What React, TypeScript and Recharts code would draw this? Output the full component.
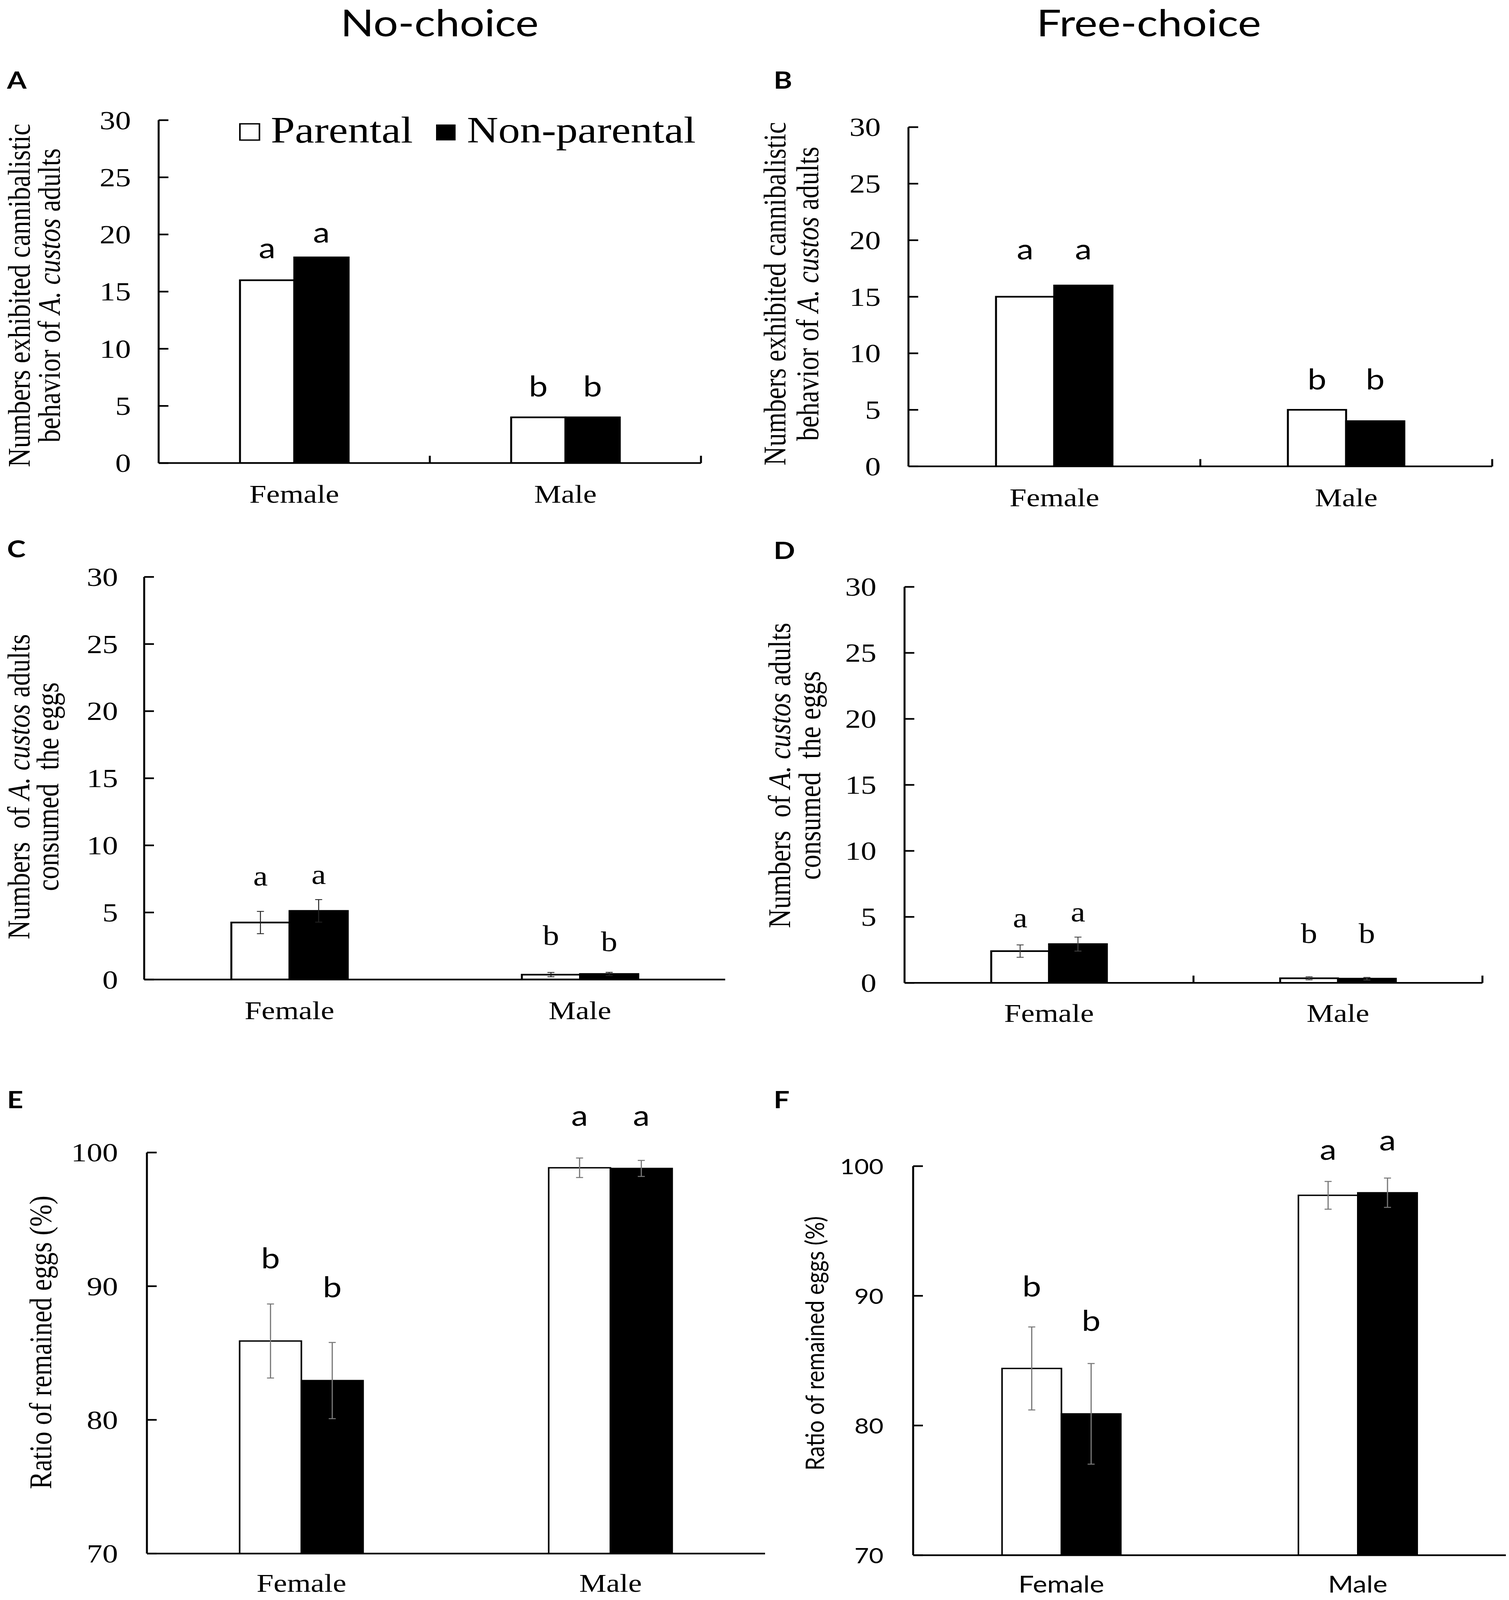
import React from 'react';
import { BarChart, Bar, XAxis, YAxis, ErrorBar, LabelList, Legend } from 'recharts';

// ---------- data ----------
const categories = ['Female', 'Male'];
const seriesNames = ['Parental', 'Non-parental'];
const countTicks = [0, 5, 10, 15, 20, 25, 30];
const ratioTicks = [70, 80, 90, 100];
const lettersCount = ['a', 'b'];
const lettersRatio = ['b', 'a'];

// A: No-choice, numbers exhibited cannibalistic behavior
const aParental = [16, 4];
const aNonParental = [18, 4];
// B: Free-choice, numbers exhibited cannibalistic behavior
const bParental = [15, 5];
const bNonParental = [16, 4];
// C: No-choice, numbers consumed the eggs
const cParental = [4.25, 0.37];
const cParentalErr = [0.83, 0.16];
const cNonParental = [5.12, 0.42];
const cNonParentalErr = [0.84, 0.12];
// D: Free-choice, numbers consumed the eggs
const dParental = [2.41, 0.35];
const dParentalErr = [0.47, 0.12];
const dNonParental = [2.94, 0.32];
const dNonParentalErr = [0.53, 0.1];
// E: No-choice, ratio of remained eggs (%)
const eParental = [85.9, 98.86];
const eParentalErr = [2.77, 0.73];
const eNonParental = [82.94, 98.81];
const eNonParentalErr = [2.85, 0.6];
// F: Free-choice, ratio of remained eggs (%)
const fParental = [84.4, 97.75];
const fParentalErr = [3.2, 1.07];
const fNonParental = [80.9, 97.95];
const fNonParentalErr = [3.88, 1.13];

// ---------- styles ----------
const SERIF = '"Liberation Serif", "Times New Roman", serif';
const SANS = 'Lato, "Open Sans", sans-serif';
const PAGE_W = 3862;
const PAGE_H = 4820;

type Cfg = {
  id: string;
  x0: number; x1: number; yTop: number; yBot: number;
  domain: [number, number]; ticks: number[];
  p: number[]; n: number[]; pe?: number[]; ne?: number[];
  letters: string[];
  gapsP: number[]; gapsN: number[];
  tickFont: string; tickSize: number; tickGap: number;
  letterFont: string; letterSize: number;
  xFont: string; xSize: number; xDy: number;
  boundary: boolean; errColor: string; errWidth: number; barStroke: number;
  legend?: boolean;
};

const panels: Cfg[] = [
  { id: 'A', x0: 406, x1: 1794, yTop: 362, yBot: 1395, domain: [0, 30], ticks: countTicks,
    p: aParental, n: aNonParental, letters: lettersCount, gapsP: [66, 63], gapsN: [45, 63],
    tickFont: SERIF, tickSize: 80, tickGap: 71, letterFont: SANS, letterSize: 86,
    xFont: SERIF, xSize: 78, xDy: 120, boundary: true, errColor: '#000', errWidth: 3, barStroke: 5,
    legend: true },
  { id: 'B', x0: 2325, x1: 3819, yTop: 383, yBot: 1405, domain: [0, 30], ticks: countTicks,
    p: bParental, n: bNonParental, letters: lettersCount, gapsP: [113, 62], gapsN: [79, 96],
    tickFont: SERIF, tickSize: 80, tickGap: 71, letterFont: SANS, letterSize: 86,
    xFont: SERIF, xSize: 78, xDy: 120, boundary: true, errColor: '#000', errWidth: 3, barStroke: 5 },
  { id: 'C', x0: 369, x1: 1856, yTop: 1738, yBot: 2951, domain: [0, 30], ticks: countTicks,
    p: cParental, n: cNonParental, pe: cParentalErr, ne: cNonParentalErr, letters: lettersCount,
    gapsP: [111, 89], gapsN: [81, 69],
    tickFont: SERIF, tickSize: 80, tickGap: 67, letterFont: SERIF, letterSize: 84,
    xFont: SERIF, xSize: 78, xDy: 119, boundary: false, errColor: '#222', errWidth: 2.5, barStroke: 5 },
  { id: 'D', x0: 2315, x1: 3794, yTop: 1768, yBot: 2961, domain: [0, 30], ticks: countTicks,
    p: dParental, n: dNonParental, pe: dParentalErr, ne: dNonParentalErr, letters: lettersCount,
    gapsP: [71, 106], gapsN: [68, 107],
    tickFont: SERIF, tickSize: 80, tickGap: 72, letterFont: SERIF, letterSize: 84,
    xFont: SERIF, xSize: 78, xDy: 117, boundary: true, errColor: '#444', errWidth: 2.5, barStroke: 5 },
  { id: 'E', x0: 376, x1: 1958, yTop: 3472, yBot: 4680, domain: [70, 100], ticks: ratioTicks,
    p: eParental, n: eNonParental, pe: eParentalErr, ne: eNonParentalErr, letters: lettersRatio,
    gapsP: [219, 127], gapsN: [251, 129],
    tickFont: SERIF, tickSize: 80, tickGap: 74, letterFont: SANS, letterSize: 86,
    xFont: SERIF, xSize: 78, xDy: 115, boundary: false, errColor: '#777', errWidth: 3, barStroke: 4 },
  { id: 'F', x0: 2337, x1: 3854, yTop: 3513, yBot: 4685, domain: [70, 100], ticks: ratioTicks,
    p: fParental, n: fNonParental, pe: fParentalErr, ne: fNonParentalErr, letters: lettersRatio,
    gapsP: [217, 107], gapsN: [250, 127],
    tickFont: SANS, tickSize: 64, tickGap: 76, letterFont: SANS, letterSize: 86,
    xFont: SANS, xSize: 70, xDy: 113, boundary: false, errColor: '#777', errWidth: 3, barStroke: 4 },
];

const LEFT = 240;
const TOP = 320;
const RIGHT = 30;
const BOTTOM = 180;
const AXIS_W = 5;

function LegendBox() {
  return (
    <svg width={1250} height={130} style={{ display: 'block', overflow: 'visible' }}>
      <rect x={14} y={33} width={50} height={49} fill="#fff" stroke="#000" strokeWidth={4} />
      <text x={93} y={89} fontFamily={SERIF} fontSize={111} fill="#000">{seriesNames[0]}</text>
      <rect x={517} y={36} width={48} height={46} fill="#000" stroke="#000" strokeWidth={2} />
      <text x={595} y={89} fontFamily={SERIF} fontSize={111} fill="#000">{seriesNames[1]}</text>
    </svg>
  );
}

function Panel({ cfg }: { cfg: Cfg }) {
  const data = categories.map((c, i) => ({
    cat: c, p: cfg.p[i], n: cfg.n[i],
    pe: cfg.pe ? cfg.pe[i] : 0, ne: cfg.ne ? cfg.ne[i] : 0,
    pl: cfg.letters[i], nl: cfg.letters[i],
  }));
  const width = cfg.x1 - cfg.x0 + LEFT + RIGHT;
  const height = cfg.yBot - cfg.yTop + TOP + BOTTOM;
  const left = cfg.x0 - LEFT;
  const top = cfg.yTop - TOP;
  const band = (cfg.x1 - cfg.x0) / categories.length;

  const yTick = (props: any) => {
    const { x, y, payload } = props;
    const ax = x + cfg.tickGap;
    return (
      <g>
        <line x1={ax} x2={ax + 25} y1={y} y2={y} stroke="#000" strokeWidth={AXIS_W} />
        <text x={x} y={y} textAnchor="end" dominantBaseline="central" fontFamily={cfg.tickFont}
          fontSize={cfg.tickSize} fill="#000">{payload.value}</text>
      </g>
    );
  };

  const xTick = (props: any) => {
    const { x, y, payload } = props;
    return (
      <g>
        {cfg.boundary && (
          <line x1={x + band / 2} x2={x + band / 2} y1={y} y2={y - 22} stroke="#000" strokeWidth={AXIS_W} />
        )}
        <text x={x} y={y + cfg.xDy} textAnchor="middle" fontFamily={cfg.xFont} fontSize={cfg.xSize}
          fill="#000">{payload.value}</text>
      </g>
    );
  };

  const letter = (gaps: number[]) => (props: any) => {
    const { x, y, width: w, value, index } = props;
    if (x == null) return null;
    return (
      <text x={Number(x) + Number(w) / 2} y={Number(y) - gaps[index]} textAnchor="middle"
        fontFamily={cfg.letterFont} fontSize={cfg.letterSize} fill="#000">{value}</text>
    );
  };

  return (
    <div style={{ position: 'absolute', left, top, width, height }}>
      <BarChart width={width} height={height} data={data}
        margin={{ top: TOP, right: RIGHT, left: 0, bottom: 0 }}
        barCategoryGap="30%" barGap={0} style={{ overflow: 'visible' }}>
        <XAxis dataKey="cat" height={BOTTOM} interval={0}
          axisLine={{ stroke: '#000', strokeWidth: AXIS_W }} tickLine={false}
          tickSize={0} tickMargin={0} tick={xTick} />
        <YAxis type="number" width={LEFT} domain={cfg.domain} ticks={cfg.ticks} interval={0}
          allowDataOverflow axisLine={{ stroke: '#000', strokeWidth: AXIS_W }} tickLine={false}
          tickSize={0} tickMargin={cfg.tickGap} tick={yTick} />
        {cfg.legend && (
          <Legend verticalAlign="middle" align="center" layout="horizontal"
            wrapperStyle={{ left: 600 - left, top: 340 - top, width: 1250, height: 130 }}
            content={() => <LegendBox />} />
        )}
        <Bar dataKey="p" name={seriesNames[0]} fill="#fff" stroke="#000" strokeWidth={cfg.barStroke}
          isAnimationActive={false}>
          {cfg.pe && (
            <ErrorBar dataKey="pe" width={9} stroke={cfg.errColor} strokeWidth={cfg.errWidth}
              isAnimationActive={false} />
          )}
          <LabelList dataKey="pl" content={letter(cfg.gapsP)} />
        </Bar>
        <Bar dataKey="n" name={seriesNames[1]} fill="#000" stroke="#000" strokeWidth={cfg.barStroke}
          isAnimationActive={false}>
          {cfg.ne && (
            <ErrorBar dataKey="ne" width={9} stroke={cfg.errColor} strokeWidth={cfg.errWidth}
              isAnimationActive={false} />
          )}
          <LabelList dataKey="nl" content={letter(cfg.gapsN)} />
        </Bar>
      </BarChart>
    </div>
  );
}

function YLabel({ x, cy, font, size, children }: any) {
  return (
    <text transform={`translate(${x},${cy}) rotate(-90)`} textAnchor="middle" fontFamily={font}
      fontSize={size} fill="#000" style={{ whiteSpace: 'pre' }}>
      {children}
    </text>
  );
}

function Overlay() {
  const it = { fontStyle: 'italic' } as const;
  return (
    <svg width={PAGE_W} height={PAGE_H} style={{ position: 'absolute', left: 0, top: 0, pointerEvents: 'none' }}>
      <text x={1125} y={110} textAnchor="middle" fontFamily={SANS} fontSize={112} fill="#000">No-choice</text>
      <text x={2940} y={110} textAnchor="middle" fontFamily={SANS} fontSize={112} fill="#000">Free-choice</text>
      {[['A', 18, 267], ['B', 1980, 267], ['C', 18, 1679], ['D', 1980, 1684], ['E', 18, 3339], ['F', 1980, 3339]].map(
        ([t, x, y]) => (
          <text key={t as string} x={x as number} y={y as number} fontFamily={SANS} fontWeight={700}
            fontSize={72} fill="#000">{t}</text>
        ))}
      <YLabel x={76} cy={890} font={SERIF} size={80}>Numbers exhibited cannibalistic</YLabel>
      <YLabel x={153} cy={890} font={SERIF} size={80}>behavior of <tspan style={it}>A. custos</tspan> adults</YLabel>
      <YLabel x={2010} cy={885} font={SERIF} size={80}>Numbers exhibited cannibalistic</YLabel>
      <YLabel x={2094} cy={885} font={SERIF} size={80}>behavior of <tspan style={it}>A. custos</tspan> adults</YLabel>
      <YLabel x={75} cy={2370} font={SERIF} size={80}>Numbers  of <tspan style={it}>A. custos</tspan> adults</YLabel>
      <YLabel x={149} cy={2370} font={SERIF} size={80}>consumed  the eggs</YLabel>
      <YLabel x={2022} cy={2336} font={SERIF} size={80}>Numbers  of <tspan style={it}>A. custos</tspan> adults</YLabel>
      <YLabel x={2099} cy={2336} font={SERIF} size={80}>consumed  the eggs</YLabel>
      <YLabel x={131} cy={4044} font={SERIF} size={80}>Ratio of remained eggs (%)</YLabel>
      <YLabel x={2109} cy={4047} font={SANS} size={66}>Ratio of remained eggs (%)</YLabel>
    </svg>
  );
}

export default function App() {
  // The browser's visible area may be shorter than the figure; fit the figure into it vertically.
  const vh = typeof window !== 'undefined' && window.innerHeight ? window.innerHeight : PAGE_H;
  const s = Math.min(1, vh / PAGE_H);
  return (
    <div style={{ position: 'relative', width: PAGE_W, height: Math.floor(PAGE_H * s), overflow: 'hidden', background: '#fff' }}>
      <style>{'body{margin:0;background:#fff;}'}</style>
      <div style={{ position: 'absolute', left: 0, top: 0, width: PAGE_W, height: PAGE_H,
        transform: `scale(1, ${s})`, transformOrigin: '0 0', background: '#fff' }}>
        <Overlay />
        {panels.map((cfg) => (
          <Panel key={cfg.id} cfg={cfg} />
        ))}
      </div>
    </div>
  );
}
